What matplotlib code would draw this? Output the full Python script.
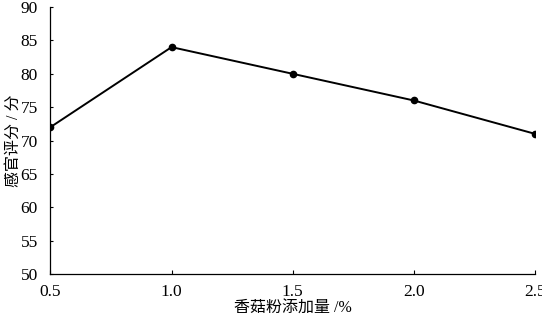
import matplotlib
matplotlib.use("Agg")
import matplotlib.pyplot as plt

plt.rcParams['font.family'] = ['Liberation Serif', 'Noto Sans CJK SC']

# 香菇粉添加量 (%) vs 感官评分
addition = [0.5, 1.0, 1.5, 2.0, 2.5]
score = [72, 84, 80, 76, 71]
x_ticks = [0.5, 1.0, 1.5, 2.0, 2.5]
x_labels = ['0.5', '1.0', '1.5', '2.0', '2.5']
y_ticks = [50, 55, 60, 65, 70, 75, 80, 85, 90]

fig = plt.figure(figsize=(5.42, 3.23), dpi=100)
ax = fig.add_axes([0.093, 0.152, 0.894, 0.826])

ax.plot(addition, score, color='black', lw=1.4, marker='o', ms=4.5)

ax.set_xlim(0.5, 2.5)
ax.set_ylim(50, 90)
ax.set_xticks(x_ticks)
ax.set_xticklabels(x_labels)
ax.set_yticks(y_ticks)
ax.tick_params(direction='in', length=3, width=0.8, labelsize=12.5)
ax.tick_params(axis='x', pad=7)
ax.tick_params(axis='y', length=2, pad=9)

ax.spines['top'].set_visible(False)
ax.spines['right'].set_visible(False)
for s in ['left', 'bottom']:
    ax.spines[s].set_linewidth(0.9)

ax.set_xlabel('香菇粉添加量 /%', fontsize=11.5, labelpad=1)
ax.set_ylabel('感官评分 / 分', fontsize=11.5, labelpad=-1)

fig.savefig('out.png', dpi=100)
